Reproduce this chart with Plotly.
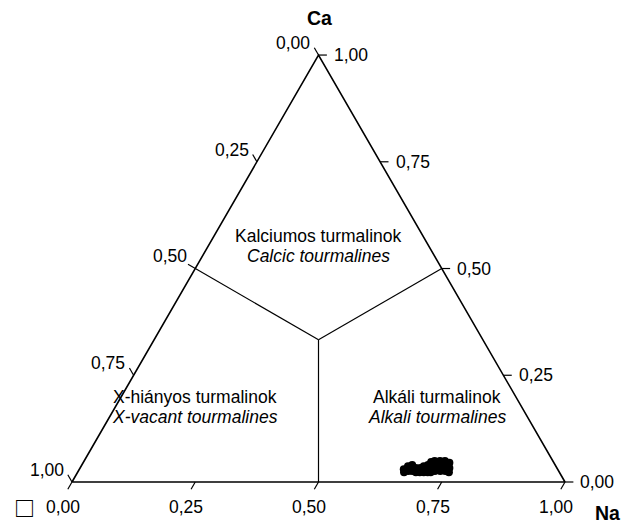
import math
import plotly.graph_objects as go

# Tourmaline X-site ternary: Ca (top), X-vacancy (bottom left), Na (bottom right)
ca_vals = [0.030, 0.023, 0.037, 0.026, 0.040, 0.026, 0.033, 0.023, 0.033, 0.023,
           0.037, 0.023, 0.023, 0.040, 0.047, 0.035, 0.023, 0.049, 0.037, 0.026,
           0.049, 0.037, 0.026, 0.049, 0.037, 0.026, 0.045, 0.033, 0.023]
na_vals = [0.658, 0.662, 0.663, 0.669, 0.670, 0.677, 0.681, 0.686, 0.690, 0.694,
           0.695, 0.702, 0.710, 0.702, 0.705, 0.710, 0.716, 0.711, 0.717, 0.723,
           0.722, 0.728, 0.734, 0.732, 0.738, 0.744, 0.743, 0.749, 0.753]

tick_vals = [0.0, 0.25, 0.5, 0.75, 1.0]
tick_text = ["0,00", "0,25", "0,50", "0,75", "1,00"]

# field names (Hungarian / English) with their (Ca, Na) anchor
field_hu = ["Kalciumos turmalinok", "X-hiányos turmalinok", "Alkáli turmalinok"]
field_en = ["Calcic tourmalines", "X-vacant tourmalines", "Alkali tourmalines"]
field_ca = [0.553, 0.176, 0.176]
field_na = [0.2245, 0.162, 0.652]

H = math.sqrt(3) / 2
TICK = 0.017
FONT = "Liberation Sans, Arial, sans-serif"
FS = 17.5


def xy(ca, na):
    """Ternary (Ca, Na) -> cartesian position inside the unit triangle."""
    return na + ca / 2, ca * H


fig = go.Figure()

# outer triangle
corners = [xy(0, 0), xy(0, 1), xy(1, 0), xy(0, 0)]
fig.add_trace(go.Scatter(x=[p[0] for p in corners], y=[p[1] for p in corners],
                         mode="lines", line=dict(color="black", width=1.6),
                         hoverinfo="skip", showlegend=False))

# field boundaries: centroid to edge midpoints
cx, cy = xy(1 / 3, 1 / 3)
lx, ly = xy(0.5, 0.0)
rx, ry = xy(0.5, 0.5)
bx, by = xy(0.0, 0.5)
ext = TICK / math.hypot(lx - cx, ly - cy)
lxe, lye = lx + (lx - cx) * ext, ly + (ly - cy) * ext
bx_, by_ = [], []
for (ex, ey) in [(lxe, lye), (rx, ry), (bx, by)]:
    bx_ += [cx, ex, None]
    by_ += [cy, ey, None]
fig.add_trace(go.Scatter(x=bx_, y=by_, mode="lines",
                         line=dict(color="black", width=1.2),
                         hoverinfo="skip", showlegend=False))

# ticks and tick labels
tx, ty = [], []
annotations = []
for v, t in zip(tick_vals, tick_text):
    # left edge: X-vacancy, 0 at top, 1 at bottom-left
    px, py = xy(1 - v, 0)
    ex, ey = px - 0.5 * TICK, py + H * TICK
    if v != 0.5:
        tx += [px, ex, None]
        ty += [py, ey, None]
    annotations.append(dict(x=ex, y=ey, text=t, xanchor="right", yanchor="middle",
                            xshift=-2, yshift=5, showarrow=False))
    # bottom edge: Na, 0 at left, 1 at right
    px, py = xy(0, v)
    ex, ey = px - 0.5 * TICK, py - H * TICK
    tx += [px, ex, None]
    ty += [py, ey, None]
    annotations.append(dict(x=ex, y=ey, text=t, xanchor="center", yanchor="middle",
                            xshift=-5, yshift=-18, showarrow=False))
    # right edge: Ca, 0 at bottom-right, 1 at top
    px, py = xy(v, 1 - v)
    ex, ey = px + TICK, py
    tx += [px, ex, None]
    ty += [py, ey, None]
    annotations.append(dict(x=ex, y=ey, text=t, xanchor="left", yanchor="middle",
                            xshift=5, showarrow=False))
fig.add_trace(go.Scatter(x=tx, y=ty, mode="lines", line=dict(color="black", width=1.2),
                         hoverinfo="skip", showlegend=False))

# analysed tourmalines
px_, py_ = zip(*[xy(c, n) for c, n in zip(ca_vals, na_vals)])
fig.add_trace(go.Scatter(x=px_, y=py_, mode="markers",
                         marker=dict(color="black", size=8, line=dict(width=0)),
                         showlegend=False))

# field names
for hu, en, ca, na in zip(field_hu, field_en, field_ca, field_na):
    fx, fy = xy(ca, na)
    annotations.append(dict(x=fx, y=fy, text=hu, xanchor="center", yanchor="middle",
                            yshift=10, showarrow=False))
    annotations.append(dict(x=fx, y=fy, text="<i>" + en + "</i>", xanchor="center",
                            yanchor="middle", yshift=-10, showarrow=False))

# vertex labels
tx0, ty0 = xy(1, 0)
annotations.append(dict(x=tx0, y=ty0, text="<b>Ca</b>", showarrow=False,
                        xanchor="center", yanchor="middle", xshift=1, yshift=37,
                        font=dict(size=19.5)))
rx0, ry0 = xy(0, 1)
annotations.append(dict(x=rx0, y=ry0, text="<b>Na</b>", showarrow=False,
                        xanchor="center", yanchor="middle", xshift=42, yshift=-31,
                        font=dict(size=19.5)))
lx0, ly0 = xy(0, 0)
annotations.append(dict(x=lx0, y=ly0, text="<b>□</b>", showarrow=False,
                        xanchor="center", yanchor="middle", xshift=-48, yshift=-25,
                        font=dict(size=21, family="Noto Sans CJK JP")))

fig.update_layout(
    width=632, height=524,
    margin=dict(l=0, r=0, t=0, b=0),
    paper_bgcolor="white", plot_bgcolor="white",
    xaxis=dict(range=[-72 / 493, 560 / 493], visible=False, fixedrange=True),
    yaxis=dict(range=[-42 / 493, 482 / 493], visible=False, fixedrange=True),
    font=dict(family=FONT, size=FS, color="black"),
    annotations=annotations,
)

fig.write_html("out.html")
